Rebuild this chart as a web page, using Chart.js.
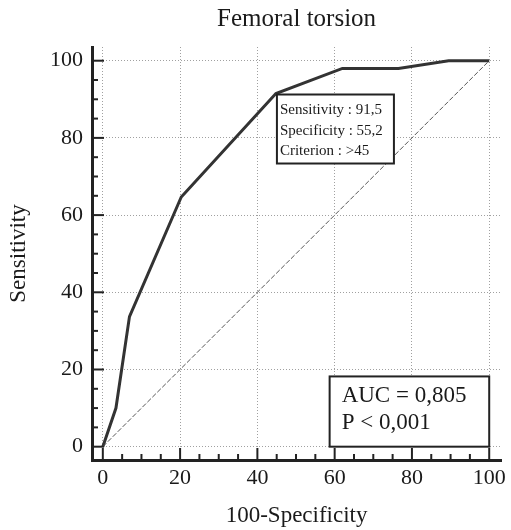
<!DOCTYPE html>
<html>
<head>
<meta charset="utf-8">
<script src="https://cdn.jsdelivr.net/npm/chart.js@4"></script>
<style>
  html, body { margin: 0; padding: 0; background: #fff; }
  canvas { display: block; }
</style>
</head>
<body>
<canvas id="roc" width="511" height="530"></canvas>
<script>
// ROC curve points (100-Specificity, Sensitivity)
const fpr = [0, 3.4, 6.9, 20.3, 44.8, 62, 76.5, 89.5, 100];
const tpr = [0, 10, 33.7, 64.7, 91.5, 98, 98, 100, 100];
const diagX = [0, 100];
const diagY = [0, 100];
const tickValues = [0, 20, 40, 60, 80, 100];
const cutoffInfo = ['Sensitivity : 91,5', 'Specificity : 55,2', 'Criterion : >45'];
const aucInfo = ['AUC = 0,805', 'P < 0,001'];

const serif = '"Liberation Serif", "DejaVu Serif", serif';

// inward ticks on both axes + the two text boxes
const extras = {
  id: 'extras',
  afterDraw(chart) {
    const ctx = chart.ctx;
    const xs = chart.scales.x, ys = chart.scales.y;
    const area = chart.chartArea;
    ctx.save();
    ctx.strokeStyle = '#222';
    ctx.lineWidth = 2;
    for (let v = 0; v <= 100; v += 5) {
      const len = v % 20 === 0 ? 12 : 6;
      const px = xs.getPixelForValue(v);
      ctx.beginPath();
      ctx.moveTo(px, area.bottom);
      ctx.lineTo(px, area.bottom - len);
      ctx.stroke();
      const py = ys.getPixelForValue(v);
      ctx.beginPath();
      ctx.moveTo(area.left, py);
      ctx.lineTo(area.left + len, py);
      ctx.stroke();
    }

    // criterion box, anchored at the cut-off point
    const bx = xs.getPixelForValue(fpr[4]) + 1;
    const by = ys.getPixelForValue(tpr[4]) + 1;
    ctx.fillStyle = '#fff';
    ctx.fillRect(bx, by, 117, 69);
    ctx.strokeStyle = '#222';
    ctx.lineWidth = 2;
    ctx.strokeRect(bx, by, 117, 69);
    ctx.fillStyle = '#1a1a1a';
    ctx.font = '15px ' + serif;
    ctx.textBaseline = 'middle';
    cutoffInfo.forEach((t, i) => ctx.fillText(t, bx + 3, by + 16 + i * 20.5, 110));

    // AUC box, bottom right
    const ax = xs.getPixelForValue(58.7);
    const ay = ys.getPixelForValue(18.2);
    const aw = xs.getPixelForValue(100) - ax;
    const ah = ys.getPixelForValue(0) - ay;
    ctx.fillStyle = '#fff';
    ctx.fillRect(ax, ay, aw, ah);
    ctx.lineWidth = 2;
    ctx.strokeRect(ax, ay, aw, ah);
    ctx.fillStyle = '#1a1a1a';
    ctx.font = '23px ' + serif;
    aucInfo.forEach((t, i) => ctx.fillText(t, ax + 12, ay + 20 + i * 26.5));
    ctx.restore();
  }
};

const gridStyle = {
  color: '#a0a0a0',
  lineWidth: 1,
  drawTicks: false
};

new Chart(document.getElementById('roc'), {
  type: 'scatter',
  data: {
    datasets: [
      {
        data: diagX.map((x, i) => ({ x: x, y: diagY[i] })),
        showLine: true,
        borderColor: '#555',
        borderWidth: 1,
        borderDash: [5, 2],
        pointRadius: 0
      },
      {
        data: fpr.map((x, i) => ({ x: x, y: tpr[i] })),
        showLine: true,
        borderColor: '#333',
        borderWidth: 3,
        pointRadius: 0,
        tension: 0
      }
    ]
  },
  options: {
    responsive: false,
    animation: false,
    layout: { padding: { left: 0, right: 9, top: 0, bottom: 0 } },
    plugins: {
      legend: { display: false },
      tooltip: { enabled: false },
      title: {
        display: true,
        text: 'Femoral torsion',
        fullSize: false,
        color: '#1a1a1a',
        font: { family: serif, size: 25, weight: 'normal' },
        padding: { top: 4, bottom: 13 }
      }
    },
    scales: {
      x: {
        type: 'linear',
        min: -2.8,
        max: 103.1,
        afterBuildTicks: s => { s.ticks = tickValues.map(v => ({ value: v })); },
        afterFit: s => { s.height = 70; },
        grid: gridStyle,
        border: { display: true, color: '#222', width: 3, dash: [1, 2] },
        ticks: { color: '#1a1a1a', padding: 5, font: { family: serif, size: 22 }, maxRotation: 0 },
        title: {
          display: true,
          text: '100-Specificity',
          color: '#1a1a1a',
          font: { family: serif, size: 23 },
          padding: { top: 4, bottom: 0 }
        }
      },
      y: {
        type: 'linear',
        min: -3.45,
        max: 103.55,
        afterBuildTicks: s => { s.ticks = tickValues.map(v => ({ value: v })); },
        afterFit: s => { s.width = 92; },
        grid: gridStyle,
        border: { display: true, color: '#222', width: 3, dash: [1, 2] },
        ticks: { color: '#1a1a1a', padding: 9, font: { family: serif, size: 22 } },
        title: {
          display: true,
          text: 'Sensitivity',
          color: '#1a1a1a',
          font: { family: serif, size: 23 },
          padding: { top: 5, bottom: 4 }
        }
      }
    }
  },
  plugins: [extras]
});
</script>
</body>
</html>
